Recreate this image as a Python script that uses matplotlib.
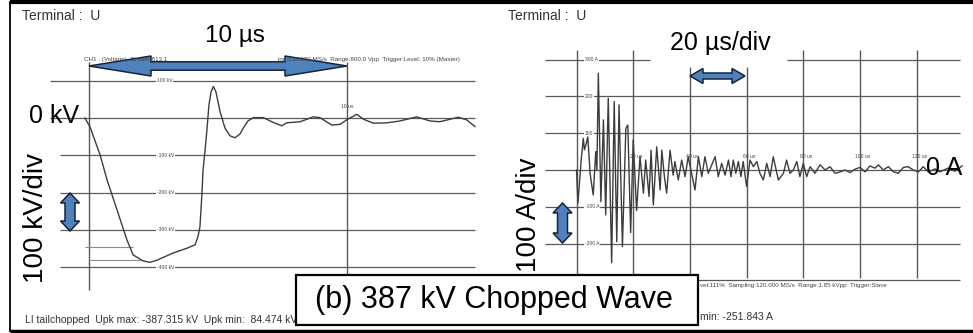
import matplotlib
matplotlib.use("Agg")
import matplotlib.pyplot as plt
from matplotlib.patches import Polygon, Rectangle
from matplotlib.transforms import Bbox, TransformedBbox

plt.rcParams['font.family'] = ['Liberation Sans', 'DejaVu Sans']

# ---------------- data: left panel (voltage, chopped lightning impulse) ----------------
v_time_us = [-0.16, 0.04, 0.43, 0.70, 1.09, 1.47, 1.71, 2.09, 2.36, 2.64, 3.26, 3.80, 4.11,
             4.22, 4.30, 4.38, 4.42, 4.50, 4.57, 4.65, 4.73, 4.82, 4.92, 5.08, 5.27, 5.47,
             5.66, 5.85, 5.98, 6.16, 6.37, 6.76, 7.08, 7.47, 7.66, 8.18, 8.69, 8.95, 9.41,
             9.73, 9.99, 10.38, 10.63, 11.02, 11.54, 12.05, 12.70, 13.22, 13.60, 14.31,
             14.64, 14.96]
v_kv = [0, -24, -99, -166, -247, -327, -367, -383, -387, -381, -362, -349, -340,
        -319, -292, -201, -139, -86, -32, 35, 70, 84.5, 70, 17, -27, -48,
        -53, -43, -27, -8, 1, 1, -10, -21, -13, -10, 3, 1, -19,
        -17, -5, 10, -3, -14, -13, -8, 3, -8, -10, 2,
        -5, -23]
v_grid_kv = [100, 0, -100, -200, -300, -400]
v_grid_labels = ['100 kV', '', '-100 kV', '-200 kV', '-300 kV', '-400 kV']
v_vlines_us = [0, 10]
v_vline_labels = ['', '10 us']

# ---------------- data: right panel (current) ----------------
i_time_us = [0.0, 0.5, 1.6, 2.4, 2.8, 3.3, 4.0, 4.8, 5.9, 6.8, 7.2, 7.7, 8.6, 9.5, 10.3,
             11.2, 12.4, 13.3, 14.2, 15.0, 16.2, 17.4, 18.1, 19.1, 20.0, 21.2, 22.4, 23.6,
             24.4, 25.6, 26.3, 27.1, 28.3, 29.5, 30.1, 31.0, 31.8, 33.0, 34.1, 34.7, 35.9,
             37.1, 38.3, 39.4, 40.6, 41.8, 43.0, 44.2, 45.3, 46.5, 47.7, 48.9, 50.0, 51.2,
             52.4, 53.6, 54.5, 55.3, 56.2, 57.1, 58.0, 58.8, 60.0, 61.2, 62.4, 63.6, 64.7,
             65.9, 67.1, 68.3, 69.4, 71.2, 73.0, 74.1, 75.3, 76.5, 77.7, 78.8, 80.0, 81.2,
             82.4, 84.1, 85.9, 87.7, 89.4, 91.2, 93.0, 94.7, 96.5, 98.2, 100.0, 101.8,
             103.5, 105.3, 106.5, 108.2, 110.0, 111.8, 113.5, 115.3, 117.0, 118.8, 120.6,
             122.3, 124.1, 126.5, 128.2, 131.0, 133.5, 136.0]
i_amp_a = [0, -90, 22, 86, 55, 68, 90, -10, -68, 50, 0, 263, -86, 136, -122,
           195, -252, 186, -195, 177, -208, 113, 122, -170, 82, -110, 36, -63,
           27, -72, 54, -95, 63, -54, 54, -18, -63, 54, -14, 23, -27,
           27, -18, 36, -9, -54, 36, -18, 36, -9, 14, 36, -18, 18,
           -14, 27, -18, 27, -9, 23, -18, 23, -45, 27, 9, 23, -9,
           -27, 18, -18, 36, -27, -9, 27, -9, 0, 23, -18, 18, -18,
           9, -9, 14, 0, 9, -9, -5, 0, -7, 2, 7, -5,
           11, 5, 14, 0, 9, -5, -9, 7, 9, 0, -5,
           9, -5, 3, -5, 5, -3, 11]
i_grid_a = [300, 200, 100, 0, -100, -200, -300]
i_grid_labels = ['300 A', '200', '100', '', '-100 A', '-200 A', '']
i_vlines_us = [0, 20, 40, 60, 80, 100, 120]
i_vline_labels = ['', '20 us', '40 us', '60 us', '80 us', '100 us', '120 us']

# ---------------- layout (pixels) ----------------
W, H, DPI = 973, 333, 100
fig = plt.figure(figsize=(W / DPI, H / DPI), dpi=DPI, facecolor='white')

def px_axes(x0, y0, x1, y1):
    return fig.add_axes([x0 / W, 1 - y1 / H, (x1 - x0) / W, (y1 - y0) / H])

GRID = '#5a5a5a'
TRACE = '#3c3c3c'
BLUE = '#4f81bd'
EDGE = '#15243a'

# left scope: 0 us at x=89 px, 25.8 px/us ; 0 kV at y=118 px, 0.373 px/kV
LX0, LSX, LY0, LSY = 89, 25.8, 118, 0.373
PL = (0, 40, 490, 300)
axL = px_axes(*PL)
axL.set_xlim((PL[0] - LX0) / LSX, (PL[2] - LX0) / LSX)
axL.set_ylim((LY0 - PL[3]) / LSY, (LY0 - PL[1]) / LSY)
axL.axis('off')
for val, lab in zip(v_grid_kv, v_grid_labels):
    x_start = (50 - LX0) / LSX if val >= 0 else (60 - LX0) / LSX
    axL.hlines(val, x_start, (475 - LX0) / LSX, color=GRID, lw=0.9)
    if lab:
        axL.text((157 - LX0) / LSX, val, lab, fontsize=3.6, color='#444', va='center', ha='left',
                 bbox=dict(fc='white', ec='none', pad=0.4))
for val, lab in zip(v_vlines_us, v_vline_labels):
    axL.vlines(val, (LY0 - 290) / LSY, (LY0 - 62) / LSY, color=GRID, lw=1.0)
    if lab:
        axL.text(val, (LY0 - 107) / LSY, lab, fontsize=3.6, color='#444', ha='center', va='center')
# short cursor marks near the trough, as in the scan
axL.hlines([(LY0 - 247) / LSY, (LY0 - 260) / LSY], [(85 - LX0) / LSX, (90 - LX0) / LSX],
           [(133 - LX0) / LSX, (140 - LX0) / LSX], color='#8a8a8a', lw=0.8)
axL.plot(v_time_us, v_kv, color=TRACE, lw=1.0)

# right scope: 0 us at x=576.5 px, 2.835 px/us ; 0 A at y=170 px, 0.368 px/A
RX0, RSX, RY0, RSY = 576.5, 2.835, 170, 0.368
PR = (500, 40, 973, 300)
axR = px_axes(*PR)
axR.set_xlim((PR[0] - RX0) / RSX, (PR[2] - RX0) / RSX)
axR.set_ylim((RY0 - PR[3]) / RSY, (RY0 - PR[1]) / RSY)
axR.axis('off')
xr0, xr1 = (545 - RX0) / RSX, (960 - RX0) / RSX
for val, lab in zip(i_grid_a, i_grid_labels):
    if val == 300:
        axR.hlines(val, xr0, (650 - RX0) / RSX, color=GRID, lw=0.9)
        axR.hlines(val, (787 - RX0) / RSX, xr1, color=GRID, lw=0.9)
    elif val == -300:
        axR.hlines(val, (573 - RX0) / RSX, xr1, color=GRID, lw=0.9)
    else:
        axR.hlines(val, xr0, xr1, color=GRID, lw=0.9)
    if lab:
        axR.text((585 - RX0) / RSX, val, lab, fontsize=3.6, color='#444', va='center', ha='left',
                 bbox=dict(fc='white', ec='none', pad=0.4))
for val, lab in zip(i_vlines_us, i_vline_labels):
    top = 280 if val in (40, 60) else 326
    axR.vlines(val, (RY0 - 278) / RSY, top, color=GRID, lw=1.0)
    if lab:
        axR.text(val + 1.0, (RY0 - 157) / RSY, lab, fontsize=3.6, color='#444', ha='center',
                 va='center')
axR.plot(i_time_us, i_amp_a, color=TRACE, lw=1.0)

# ---------------- overlay (annotations in pixel coordinates) ----------------
ov = fig.add_axes([0, 0, 1, 1])
ov.set_xlim(0, W)
ov.set_ylim(H, 0)
ov.axis('off')

def harrow(x0, x1, yc, hl, hh, sh):
    pts = [(x0, yc), (x0 + hl, yc - hh), (x0 + hl, yc - sh), (x1 - hl, yc - sh),
           (x1 - hl, yc - hh), (x1, yc), (x1 - hl, yc + hh), (x1 - hl, yc + sh),
           (x0 + hl, yc + sh), (x0 + hl, yc + hh)]
    ov.add_patch(Polygon(pts, closed=True, fc=BLUE, ec=EDGE, lw=1.1, zorder=5))

def varrow(xc, y0, y1, hl, hh, sh):
    pts = [(xc, y0), (xc + hh, y0 + hl), (xc + sh, y0 + hl), (xc + sh, y1 - hl),
           (xc + hh, y1 - hl), (xc, y1), (xc - hh, y1 - hl), (xc - sh, y1 - hl),
           (xc - sh, y0 + hl), (xc - hh, y0 + hl)]
    ov.add_patch(Polygon(pts, closed=True, fc=BLUE, ec=EDGE, lw=1.1, zorder=5))

harrow(89, 347, 66, 62, 10, 4.2)
harrow(690, 745, 76, 13, 7.5, 3)
varrow(70, 193, 231, 10, 9.5, 5)
varrow(562.5, 203, 243, 10, 9.5, 5)

# scope header lines (printed above the arrow)
ov.text(84, 60, 'CH1 : (Voltage)  Divider:813.1', fontsize=4.5, color='#444',
        va='center', ha='left', zorder=8)
hdr = ov.text(278, 60, 'ing:120.000 MS/s  Range:800.0 Vpp  Trigger:Level: 10% (Master)',
              fontsize=4.5, color='#444', va='center', ha='left', zorder=8, clip_on=True)
hdr.set_clip_box(TransformedBbox(Bbox([[0, 0], [490, H]]), ov.transData))

# frame
ov.plot([10, W], [2, 2], color='black', lw=3, solid_capstyle='butt')
ov.plot([10, W], [331, 331], color='black', lw=2.5, solid_capstyle='butt')
ov.plot([10, 10], [2, 331], color='black', lw=1.3)

ov.text(22, 16, 'Terminal :  U', fontsize=10, color='#333', ha='left', va='center')
ov.text(508, 16, 'Terminal :  U', fontsize=10, color='#333', ha='left', va='center')
ov.text(235, 36, '10 µs', fontsize=17.5, ha='center', va='center')
ov.text(720, 43, '20 µs/div', fontsize=18, ha='center', va='center')
ov.text(54, 116, '0 kV', fontsize=18, ha='center', va='center')
ov.text(944, 168, '0 A', fontsize=18, ha='center', va='center')
ov.text(36, 218, '100 kV/div', fontsize=20, rotation=90, ha='center', va='center')
ov.text(529, 215, '100 A/div', fontsize=20, rotation=90, ha='center', va='center')

ov.text(25, 320, 'LI tailchopped  Upk max: -387.315 kV  Upk min:  84.474 kV', fontsize=7.5,
        color='#333', ha='left', va='center')
ov.text(700, 317, 'min: -251.843 A', fontsize=7.5, color='#333', ha='left', va='center')
ov.text(700, 285, 'vel:111%  Sampling:120.000 MS/s  Range:1.85 kVpp  Trigger:Slave',
        fontsize=4.5, color='#444', ha='left', va='center')

ov.add_patch(Rectangle((296, 275), 402, 50, fc='white', ec='black', lw=1.6, zorder=6))
ov.text(494, 300, '(b) 387 kV Chopped Wave', fontsize=22, ha='center', va='center', zorder=7)

fig.savefig('out.png', dpi=DPI, facecolor='white')
